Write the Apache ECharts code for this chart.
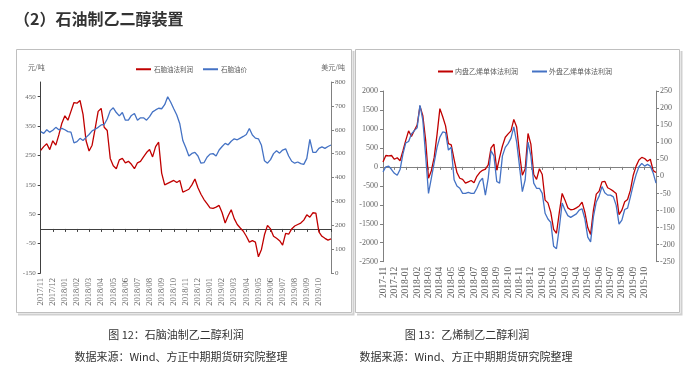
<!DOCTYPE html>
<html><head><meta charset="utf-8">
<script src="https://cdn.jsdelivr.net/npm/echarts@6/dist/echarts.min.js"></script>
<style>html,body{margin:0;padding:0;background:#fff;}#c{width:696px;height:374px;}</style>
</head><body><div id="c"></div>
<script>
// ---------- data ----------
const months1 = ['2017/11','2017/12','2018/01','2018/02','2018/03','2018/04','2018/05','2018/06','2018/07','2018/08','2018/09','2018/10','2018/11','2018/12','2019/01','2019/02','2019/03','2019/04','2019/05','2019/06','2019/07','2019/08','2019/09','2019/10'];
const months2 = ['2017-11','2017-12','2018-01','2018-02','2018-03','2018-04','2018-05','2018-06','2018-07','2018-08','2018-09','2018-10','2018-11','2018-12','2019-01','2019-02','2019-03','2019-04','2019-05','2019-06','2019-07','2019-08','2019-09','2019-10'];

// chart 12 (weekly readings)
const naphthaProfit = [267,280,290,270,300,285,320,360,385,370,
 400,430,428,437,390,300,265,285,341,400,
 410,346,335,240,215,205,235,240,225,230,
 220,205,225,230,245,260,270,245,280,295,
 190,150,155,160,165,158,165,125,130,135,
 150,170,140,118,100,86,72,70,74,80,
 55,20,45,65,35,15,3,-8,-25,-45,
 -40,-45,-95,-70,-20,12,0,-25,-32,-40,
 -55,-15,-18,0,10,15,20,30,48,40,
 55,54,-10,-25,-32,-38,-34];
const naphthaPrice = [592,585,600,590,598,610,600,606,600,592,
 590,545,550,564,555,568,580,595,602,610,
 620,622,645,680,692,672,658,672,640,640,
 660,668,640,650,650,640,655,675,683,690,
 688,705,738,715,688,662,625,555,525,490,
 501,505,490,460,462,485,498,500,490,515,
 530,543,537,552,562,558,565,572,580,605,
 578,565,562,535,470,460,475,500,512,502,
 515,520,490,468,460,465,458,455,480,560,
 505,505,522,528,522,530,536];

// chart 13 (weekly readings)
const domesticProfit = [130,300,290,300,200,240,160,420,700,950,
 800,960,1100,1600,1350,700,-300,-100,250,850,
 1536,1320,1080,615,580,200,-150,-300,-330,-430,
 -395,-360,-420,-250,-150,-90,-60,50,500,600,
 -90,250,550,780,870,950,1250,1050,350,-220,
 -50,880,600,-200,-330,-50,-200,-877,-950,-1200,
 -1650,-1750,-1200,-700,-877,-1080,-1130,-1120,-1080,-1030,
 -930,-1200,-1600,-1780,-1140,-720,-640,-395,-380,-550,
 -590,-640,-700,-1260,-1140,-920,-860,-614,-220,20,
 180,250,220,150,200,-100,-150];
const foreignProfit = [13,28,30,20,9,3,20,65,98,102,
 124,134,142,209,165,60,-50,-5,40,85,
 115,130,128,77,85,-10,-28,-35,-50,-50,
 -47,-50,-50,-35,-15,-5,-55,-5,75,60,
 -15,-20,60,85,96,112,145,100,30,-45,
 -10,100,60,-20,-35,-35,-50,-108,-125,-135,
 -205,-212,-150,-78,-99,-115,-120,-115,-110,-99,
 -95,-125,-178,-192,-118,-75,-58,-30,-48,-55,
 -55,-60,-85,-140,-128,-97,-93,-60,-25,5,
 28,38,30,35,30,10,-20];

const leftTicks1 = [-150,-50,50,150,250,350,450];

// ---------- build categories (4 readings per month + end) ----------
function weekly(months, endLabel){
  const out = [];
  months.forEach(m => { for (let k = 0; k < 4; k++) out.push(m + '#' + k); });
  out.push(endLabel + '#0');
  return out;
}
const cats1 = weekly(months1, '2019/11');
const cats2 = weekly(months2, '2019-11');
const N = cats1.length - 1;

const serif = 'Liberation Serif';
const cjk = 'Noto Sans CJK SC';
const labCol = '#666666';
const plain = (v) => String(v);

function labelAxis(grid, cats, size){
  return {gridIndex:grid, type:'category', data:cats, boundaryGap:false, position:'bottom',
    axisLine:{show:false,onZero:false}, axisTick:{show:false}, splitLine:{show:false},
    axisLabel:{interval:(i)=> i%4===0 && i<N, rotate:90, margin:5,
      formatter:(v)=>v.split('#')[0], fontFamily:serif, fontSize:size, color:labCol}};
}
function zeroAxis(grid, cats, col){
  return {gridIndex:grid, type:'category', data:cats, boundaryGap:false, position:'bottom',
    axisLine:{show:true,onZero:true,lineStyle:{color:col,width:1}},
    axisTick:{show:true,interval:(i)=> i%4===0, length:3, lineStyle:{color:col}},
    axisLabel:{show:false}, splitLine:{show:false}};
}

const chart = echarts.init(document.getElementById('c'), null, {renderer:'canvas'});
const option = {
  animation:false,
  backgroundColor:'#fff',
  grid:[
    {left:40.7, top:82, width:290.3, height:191},
    {left:383, top:91, width:273, height:170.7}
  ],
  legend:[
    {left:131, top:61, itemWidth:15, itemHeight:2, itemGap:10, icon:'rect',
     data:['石脑油法利润','石脑油价'],
     textStyle:{fontFamily:cjk, fontSize:6.5, color:'#595959', padding:[0,0,0,-2]}},
    {left:433, top:63, itemWidth:15, itemHeight:2, itemGap:14, icon:'rect',
     data:['内盘乙烯单体法利润','外盘乙烯单体法利润'],
     textStyle:{fontFamily:cjk, fontSize:7, color:'#595959', padding:[0,0,0,-3]}}
  ],
  xAxis:[
    labelAxis(0, cats1, 8.5),
    zeroAxis(0, cats1, '#404040'),
    labelAxis(1, cats2, 9.5),
    zeroAxis(1, cats2, '#808080')
  ],
  yAxis:[
    {gridIndex:0, type:'value', min:-150, max:500, position:'left',
     axisLine:{show:true,onZero:false,lineStyle:{color:'#404040'}},
     axisTick:{show:true,length:3,customValues:leftTicks1,lineStyle:{color:'#404040'}},
     axisLabel:{customValues:leftTicks1, formatter:plain, margin:5, fontFamily:serif, fontSize:7, color:labCol},
     splitLine:{show:false}},
    {gridIndex:0, type:'value', min:0, max:800, interval:100, position:'right',
     axisLine:{show:true,onZero:false,lineStyle:{color:'#808080'}},
     axisTick:{show:true,length:3,lineStyle:{color:'#808080'}},
     axisLabel:{formatter:plain, margin:4, fontFamily:serif, fontSize:7, color:labCol},
     splitLine:{show:false}},
    {gridIndex:1, type:'value', min:-2500, max:2000, interval:500, position:'left',
     axisLine:{show:true,onZero:false,lineStyle:{color:'#808080'}},
     axisTick:{show:true,length:3,lineStyle:{color:'#808080'}},
     axisLabel:{formatter:plain, margin:5, fontFamily:serif, fontSize:8, color:labCol},
     splitLine:{show:false}},
    {gridIndex:1, type:'value', min:-250, max:250, interval:50, position:'right',
     axisLine:{show:true,onZero:false,lineStyle:{color:'#808080'}},
     axisTick:{show:true,length:3,lineStyle:{color:'#808080'}},
     axisLabel:{formatter:plain, margin:4, fontFamily:serif, fontSize:8, color:labCol},
     splitLine:{show:false}}
  ],
  series:[
    {name:'石脑油法利润', type:'line', xAxisIndex:0, yAxisIndex:0, data:naphthaProfit,
     symbol:'none', lineStyle:{color:'#c00000', width:1.3}, itemStyle:{color:'#c00000'}, z:3},
    {name:'石脑油价', type:'line', xAxisIndex:0, yAxisIndex:1, data:naphthaPrice,
     symbol:'none', lineStyle:{color:'#4472c4', width:1.3}, itemStyle:{color:'#4472c4'}, z:4},
    {name:'内盘乙烯单体法利润', type:'line', xAxisIndex:2, yAxisIndex:2, data:domesticProfit,
     symbol:'none', lineStyle:{color:'#c00000', width:1.3}, itemStyle:{color:'#c00000'}, z:3},
    {name:'外盘乙烯单体法利润', type:'line', xAxisIndex:2, yAxisIndex:3, data:foreignProfit,
     symbol:'none', lineStyle:{color:'#4472c4', width:1.3}, itemStyle:{color:'#4472c4'}, z:4}
  ],
  graphic:[
    {type:'polyline', shape:{points:[[353.5,51],[353.5,314.5],[18,314.5]]}, style:{stroke:'#d0d0d0', lineWidth:2, fill:null}},
    {type:'rect', shape:{x:16.5,y:49.5,width:335,height:263}, style:{stroke:'#bfbfbf', lineWidth:1, fill:null}},
    {type:'polyline', shape:{points:[[681.5,51],[681.5,314.5],[357,314.5]]}, style:{stroke:'#d0d0d0', lineWidth:2, fill:null}},
    {type:'rect', shape:{x:355.5,y:49.5,width:324,height:263}, style:{stroke:'#bfbfbf', lineWidth:1, fill:null}},
    {type:'text', x:14, y:19, style:{text:'（2）石油制乙二醇装置', font:'bold 16px "Noto Sans CJK SC"', fill:'#333333', textVerticalAlign:'middle', verticalAlign:'middle'}},
    {type:'text', x:28, y:67, style:{text:'元/吨', font:'7px "Noto Sans CJK SC"', fill:'#666666', textVerticalAlign:'middle', verticalAlign:'middle'}},
    {type:'text', x:345, y:67, style:{text:'美元/吨', font:'7px "Noto Sans CJK SC"', fill:'#666666', textAlign:'right', align:'right', textVerticalAlign:'middle', verticalAlign:'middle'}},
    {type:'text', x:176, y:335, style:{text:'图 12：石脑油制乙二醇利润', font:'11px "Noto Sans CJK SC"', fill:'#333333', textAlign:'center', align:'center', textVerticalAlign:'middle', verticalAlign:'middle'}},
    {type:'text', x:181, y:357, style:{text:'数据来源：Wind、方正中期期货研究院整理', font:'11px "Noto Sans CJK SC"', fill:'#333333', textAlign:'center', align:'center', textVerticalAlign:'middle', verticalAlign:'middle'}},
    {type:'text', x:467, y:335, style:{text:'图 13：乙烯制乙二醇利润', font:'11px "Noto Sans CJK SC"', fill:'#333333', textAlign:'center', align:'center', textVerticalAlign:'middle', verticalAlign:'middle'}},
    {type:'text', x:466, y:357, style:{text:'数据来源：Wind、方正中期期货研究院整理', font:'11px "Noto Sans CJK SC"', fill:'#333333', textAlign:'center', align:'center', textVerticalAlign:'middle', verticalAlign:'middle'}}
  ]
};
chart.setOption(option);
</script></body></html>
